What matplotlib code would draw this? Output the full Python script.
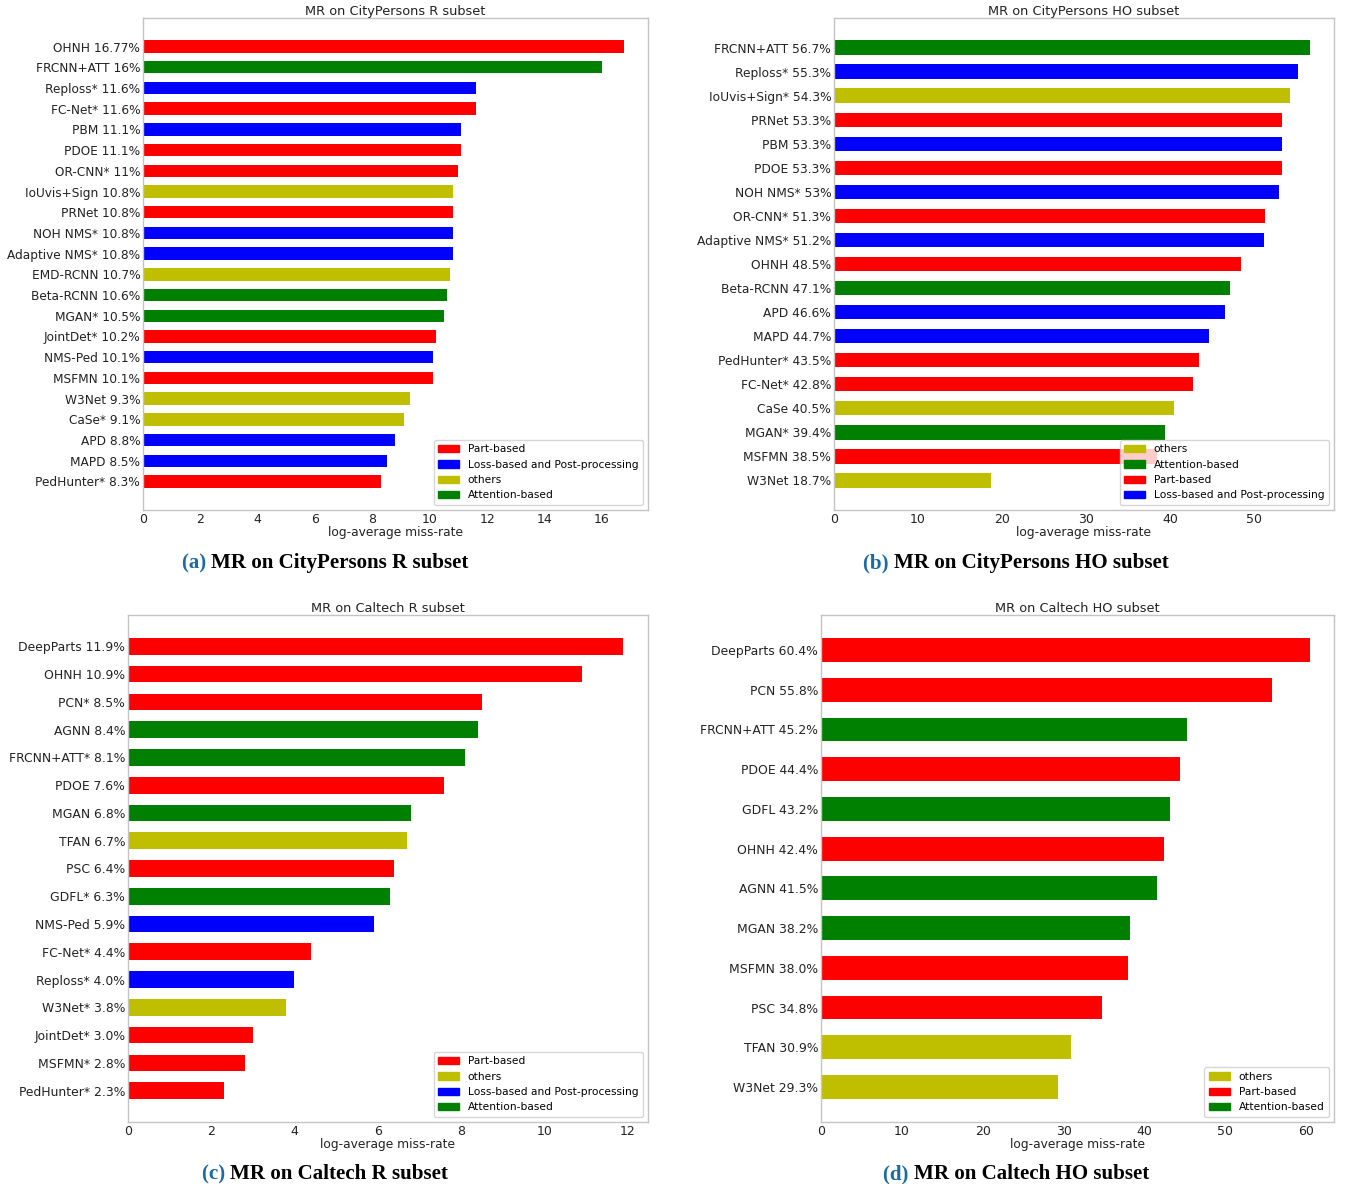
import matplotlib
matplotlib.use("Agg")
import matplotlib.pyplot as plt
from matplotlib.patches import Patch

W, H = 1347, 1184
RED, BLUE, OLIVE, GREEN = "#ff0000", "#0000ff", "#bfbf00", "#008000"
CMAP = {"Part-based": RED, "Loss-based and Post-processing": BLUE,
        "others": OLIVE, "Attention-based": GREEN}

# (a) CityPersons R subset
a_vals = [16.77, 16, 11.6, 11.6, 11.1, 11.1, 11, 10.8, 10.8, 10.8, 10.8, 10.7,
          10.6, 10.5, 10.2, 10.1, 10.1, 9.3, 9.1, 8.8, 8.5, 8.3]
a_labels = ["OHNH 16.77%", "FRCNN+ATT 16%", "Reploss* 11.6%", "FC-Net* 11.6%",
            "PBM 11.1%", "PDOE 11.1%", "OR-CNN* 11%", "IoUvis+Sign 10.8%",
            "PRNet 10.8%", "NOH NMS* 10.8%", "Adaptive NMS* 10.8%",
            "EMD-RCNN 10.7%", "Beta-RCNN 10.6%", "MGAN* 10.5%", "JointDet* 10.2%",
            "NMS-Ped 10.1%", "MSFMN 10.1%", "W3Net 9.3%", "CaSe* 9.1%",
            "APD 8.8%", "MAPD 8.5%", "PedHunter* 8.3%"]
a_cats = ["Part-based", "Attention-based", "Loss-based and Post-processing",
          "Part-based", "Loss-based and Post-processing", "Part-based",
          "Part-based", "others", "Part-based",
          "Loss-based and Post-processing", "Loss-based and Post-processing",
          "others", "Attention-based", "Attention-based", "Part-based",
          "Loss-based and Post-processing", "Part-based", "others", "others",
          "Loss-based and Post-processing", "Loss-based and Post-processing",
          "Part-based"]
a_legend = ["Part-based", "Loss-based and Post-processing", "others", "Attention-based"]

# (b) CityPersons HO subset
b_vals = [56.7, 55.3, 54.3, 53.3, 53.3, 53.3, 53, 51.3, 51.2, 48.5, 47.1, 46.6,
          44.7, 43.5, 42.8, 40.5, 39.4, 38.5, 18.7]
b_labels = ["FRCNN+ATT 56.7%", "Reploss* 55.3%", "IoUvis+Sign* 54.3%",
            "PRNet 53.3%", "PBM 53.3%", "PDOE 53.3%", "NOH NMS* 53%",
            "OR-CNN* 51.3%", "Adaptive NMS* 51.2%", "OHNH 48.5%",
            "Beta-RCNN 47.1%", "APD 46.6%", "MAPD 44.7%", "PedHunter* 43.5%",
            "FC-Net* 42.8%", "CaSe 40.5%", "MGAN* 39.4%", "MSFMN 38.5%",
            "W3Net 18.7%"]
b_cats = ["Attention-based", "Loss-based and Post-processing", "others",
          "Part-based", "Loss-based and Post-processing", "Part-based",
          "Loss-based and Post-processing", "Part-based",
          "Loss-based and Post-processing", "Part-based", "Attention-based",
          "Loss-based and Post-processing", "Loss-based and Post-processing",
          "Part-based", "Part-based", "others", "Attention-based", "Part-based",
          "others"]
b_legend = ["others", "Attention-based", "Part-based", "Loss-based and Post-processing"]

# (c) Caltech R subset
c_vals = [11.9, 10.9, 8.5, 8.4, 8.1, 7.6, 6.8, 6.7, 6.4, 6.3, 5.9, 4.4, 4.0,
          3.8, 3.0, 2.8, 2.3]
c_labels = ["DeepParts 11.9%", "OHNH 10.9%", "PCN* 8.5%", "AGNN 8.4%",
            "FRCNN+ATT* 8.1%", "PDOE 7.6%", "MGAN 6.8%", "TFAN 6.7%",
            "PSC 6.4%", "GDFL* 6.3%", "NMS-Ped 5.9%", "FC-Net* 4.4%",
            "Reploss* 4.0%", "W3Net* 3.8%", "JointDet* 3.0%", "MSFMN* 2.8%",
            "PedHunter* 2.3%"]
c_cats = ["Part-based", "Part-based", "Part-based", "Attention-based",
          "Attention-based", "Part-based", "Attention-based", "others",
          "Part-based", "Attention-based", "Loss-based and Post-processing",
          "Part-based", "Loss-based and Post-processing", "others",
          "Part-based", "Part-based", "Part-based"]
c_legend = ["Part-based", "others", "Loss-based and Post-processing", "Attention-based"]

# (d) Caltech HO subset
d_vals = [60.4, 55.8, 45.2, 44.4, 43.2, 42.4, 41.5, 38.2, 38.0, 34.8, 30.9, 29.3]
d_labels = ["DeepParts 60.4%", "PCN 55.8%", "FRCNN+ATT 45.2%", "PDOE 44.4%",
            "GDFL 43.2%", "OHNH 42.4%", "AGNN 41.5%", "MGAN 38.2%",
            "MSFMN 38.0%", "PSC 34.8%", "TFAN 30.9%", "W3Net 29.3%"]
d_cats = ["Part-based", "Part-based", "Attention-based", "Part-based",
          "Attention-based", "Part-based", "Attention-based", "Attention-based",
          "Part-based", "Part-based", "others", "others"]
d_legend = ["others", "Part-based", "Attention-based"]

titles = ["MR on CityPersons R subset", "MR on CityPersons HO subset",
          "MR on Caltech R subset", "MR on Caltech HO subset"]
captions = [("(a)", "MR on CityPersons R subset"),
            ("(b)", "MR on CityPersons HO subset"),
            ("(c)", "MR on Caltech R subset"),
            ("(d)", "MR on Caltech HO subset")]

fig = plt.figure(figsize=(W / 100, H / 100), dpi=100)
plt.rcParams["font.family"] = "DejaVu Sans"

# axes boxes in pixels: left, right, top, bottom
boxes = [(143, 648, 18, 510), (834, 1334, 18, 510),
         (128, 648, 615, 1122), (821, 1334, 615, 1122)]
panels = [(a_vals, a_labels, a_cats, a_legend),
          (b_vals, b_labels, b_cats, b_legend),
          (c_vals, c_labels, c_cats, c_legend),
          (d_vals, d_labels, d_cats, d_legend)]
ysizes = [8.7, 8.8, 8.9, 8.9]

for (l, r, t, b), (vals, labels, cats, leg), title, ys in zip(boxes, panels, titles, ysizes):
    ax = fig.add_axes([l / W, 1 - b / H, (r - l) / W, (b - t) / H])
    n = len(vals)
    ypos = list(range(n))
    ax.barh(ypos, vals, height=0.6, color=[CMAP[c] for c in cats])
    ax.set_yticks(ypos)
    ax.set_yticklabels(labels)
    ax.invert_yaxis()
    ax.tick_params(axis="both", length=0, labelsize=9, pad=2.5, colors="#222222")
    ax.tick_params(axis="y", labelsize=ys, pad=2)
    for s in ax.spines.values():
        s.set_color("#c4c4c4")
        s.set_linewidth(1.0)
    ax.set_title(title, fontsize=9.3, pad=0.8, color="#222222")
    ax.set_xlabel("log-average miss-rate", fontsize=8.8, labelpad=0, color="#222222")
    handles = [Patch(color=CMAP[k], label=k) for k in leg]
    ax.legend(handles=handles, loc="lower right", fontsize=7.7)

# captions
fig.canvas.draw()
renderer = fig.canvas.get_renderer()
centers = [(325, 568), (1016, 568), (325, 1179), (1016, 1179)]
for (pre, rest), (cx, by) in zip(captions, centers):
    kw = dict(fontsize=15.1, fontweight="bold", family="Liberation Serif", va="baseline")
    t1 = fig.text(0, 1 - by / H, pre + " ", color="#1a6aa6", ha="left", **kw)
    t2 = fig.text(0, 1 - by / H, rest, color="black", ha="left", **kw)
    w1 = t1.get_window_extent(renderer).width
    w2 = t2.get_window_extent(renderer).width
    x0 = cx - (w1 + w2) / 2
    t1.set_x(x0 / W)
    t2.set_x((x0 + w1) / W)

fig.savefig("out.png", dpi=100)
